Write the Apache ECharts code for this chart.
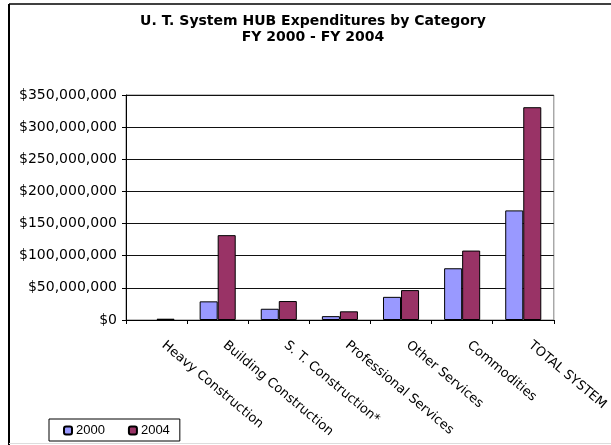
<!DOCTYPE html>
<html>
<head>
<meta charset="utf-8">
<script src="https://cdn.jsdelivr.net/npm/echarts@6/dist/echarts.min.js"></script>
<style>
html,body{margin:0;padding:0;background:#fff;}
#c{width:611px;height:445px;}
</style>
</head>
<body>
<div id="c"></div>
<script>
const categories = ["Heavy Construction", "Building Construction", "S. T. Construction*", "Professional Services", "Other Services", "Commodities", "TOTAL SYSTEM"];
const fy2000 = [null, 29000000, 17500000, 6000000, 36000000, 80500000, 170500000];
const fy2004 = [2000000, 132000000, 29500000, 13500000, 46500000, 108000000, 331000000];
const seriesNames = ["2000", "2004"];
const yTicks = { min: 0, max: 350000000, interval: 50000000 };

function money(v) {
  return "$" + String(v).replace(/\B(?=(\d{3})+(?!\d))/g, ",");
}

const chart = echarts.init(document.getElementById('c'), null, { renderer: 'canvas' });
chart.setOption({
  animation: false,
  backgroundColor: '#fff',
  title: {
    text: "U. T. System HUB Expenditures by Category\nFY 2000 - FY 2004",
    left: 313, top: 13, padding: 0,
    textAlign: 'center',
    textStyle: { fontFamily: 'DejaVu Sans', fontWeight: 'bold', fontSize: 14, lineHeight: 16, color: '#000' }
  },
  graphic: [
    { type: 'line', shape: { x1: 9, y1: 4, x2: 9, y2: 445 }, style: { stroke: '#000', lineWidth: 2 } },
    { type: 'line', shape: { x1: 9, y1: 4, x2: 611, y2: 4 }, style: { stroke: '#000', lineWidth: 1.5 } },
    { type: 'line', shape: { x1: 9, y1: 443.5, x2: 611, y2: 443.5 }, style: { stroke: '#ddd', lineWidth: 1 } }
  ],
  legend: {
    data: seriesNames,
    left: 49, top: 419,
    orient: 'horizontal',
    padding: [5, 10, 4, 14],
    itemGap: 23, itemWidth: 8, itemHeight: 8,
    borderColor: '#000', borderWidth: 1,
    textStyle: { fontFamily: 'Liberation Sans', fontSize: 13, color: '#000', padding: [0, 0, 0, -1] }
  },
  grid: {
    left: 126, top: 95, right: 56, bottom: 125,
    show: true, borderColor: '#808080', borderWidth: 1,
    containLabel: false
  },
  xAxis: {
    type: 'category',
    data: categories,
    boundaryGap: true,
    axisLine: { lineStyle: { color: '#000', width: 1 } },
    axisTick: { show: true, length: 4, lineStyle: { color: '#000' } },
    axisLabel: {
      interval: 0, rotate: -40, margin: 18, padding: [0, 0, 0, 9],
      fontFamily: 'DejaVu Sans', fontSize: 13, color: '#000'
    }
  },
  yAxis: {
    type: 'value',
    min: yTicks.min, max: yTicks.max, interval: yTicks.interval,
    axisLine: { show: true, lineStyle: { color: '#000', width: 1 } },
    axisTick: { show: true, length: 4, lineStyle: { color: '#000' } },
    splitLine: { show: true, lineStyle: { color: '#111', width: 1 } },
    axisLabel: {
      formatter: money, margin: 9,
      fontFamily: 'DejaVu Sans', fontSize: 14, color: '#000'
    }
  },
  series: [
    {
      name: seriesNames[0], type: 'bar', data: fy2000,
      barGap: '0%', barCategoryGap: '41%',
      itemStyle: { color: '#9999FF', borderColor: '#000', borderWidth: 1 }
    },
    {
      name: seriesNames[1], type: 'bar', data: fy2004,
      barGap: '0%', barCategoryGap: '41%',
      itemStyle: { color: '#993366', borderColor: '#000', borderWidth: 1 }
    }
  ]
});
</script>
</body>
</html>
